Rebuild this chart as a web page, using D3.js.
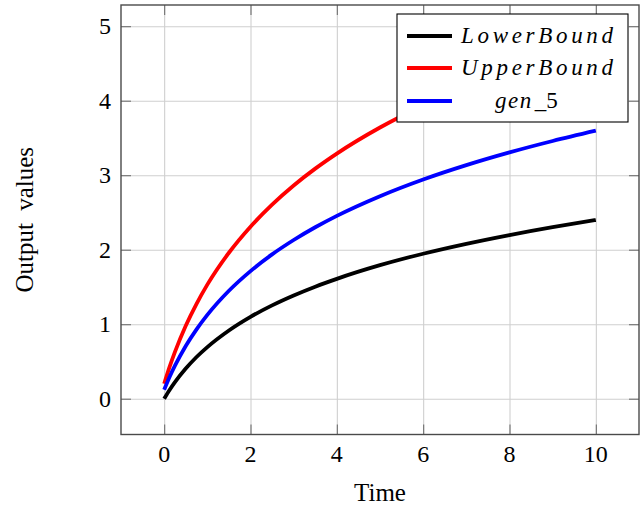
<!DOCTYPE html>
<html>
<head>
<meta charset="utf-8">
<script src="https://cdn.jsdelivr.net/npm/d3@7"></script>
<style>
  html, body { margin: 0; padding: 0; background: #fff; }
  svg { display: block; }
  text { font-family: "Liberation Serif", "Times New Roman", serif; fill: #000; }
</style>
</head>
<body>
<svg id="chart" width="644" height="506"></svg>
<script>
// Sample times and the three output series
const time       = [0, 0.125, 0.25, 0.5, 0.75, 1, 1.5, 2, 2.5, 3, 3.5, 4, 5, 6, 7, 8, 9, 10];
const lowerBound = [0, 0.118, 0.223, 0.405, 0.560, 0.693, 0.916, 1.099, 1.253, 1.386, 1.504, 1.609, 1.792, 1.946, 2.079, 2.197, 2.303, 2.398];
const upperBound = [0.200, 0.426, 0.628, 0.979, 1.274, 1.531, 1.959, 2.309, 2.605, 2.862, 3.088, 3.290, 3.640, 3.936, 4.192, 4.419, 4.621, 4.804];
const gen5       = [0.120, 0.291, 0.443, 0.708, 0.931, 1.125, 1.449, 1.713, 1.937, 2.130, 2.301, 2.454, 2.718, 2.942, 3.135, 3.306, 3.459, 3.597];

const xTicks = [0, 2, 4, 6, 8, 10];
const yTicks = [0, 1, 2, 3, 4, 5];

const seriesNames  = ["LowerBound", "UpperBound", "gen_5"];
const seriesColors = ["#000000", "#ff0000", "#0000ff"];
const seriesValues = [lowerBound, upperBound, gen5];

const svg = d3.select("#chart");
const W = 644, H = 506;
const margin = { left: 121, right: 5, top: 5, bottom: 71.5 };
const iw = W - margin.left - margin.right;
const ih = H - margin.top - margin.bottom;

// Axis limits enlarged by 10% of the data range on each side
const xMin = d3.min(time), xMax = d3.max(time);
const allY = seriesValues.flat();
const yMin = d3.min(allY), yMax = d3.max(allY);
const xPad = (xMax - xMin) * 0.1, yPad = (yMax - yMin) * 0.1;

const x = d3.scaleLinear().domain([xMin - xPad, xMax + xPad]).range([0, iw]);
const y = d3.scaleLinear().domain([yMin - yPad, yMax + yPad]).range([ih, 0]);

const g = svg.append("g").attr("transform", `translate(${margin.left},${margin.top})`);

// Grid
g.append("g").attr("class", "grid-x")
  .call(d3.axisBottom(x).tickValues(xTicks).tickSize(-ih).tickFormat(""))
  .attr("transform", `translate(0,${ih})`)
  .call(s => s.select(".domain").remove())
  .call(s => s.selectAll("line").attr("stroke", "#cfcfcf").attr("stroke-width", 1.1));
g.append("g").attr("class", "grid-y")
  .call(d3.axisLeft(y).tickValues(yTicks).tickSize(-iw).tickFormat(""))
  .call(s => s.select(".domain").remove())
  .call(s => s.selectAll("line").attr("stroke", "#cfcfcf").attr("stroke-width", 1.1));

// Inward tick marks on all four sides
const tl = 10;
const tickStyle = s => s.attr("stroke", "#707070").attr("stroke-width", 1.1);
g.append("g").attr("transform", `translate(0,${ih})`)
  .call(d3.axisBottom(x).tickValues(xTicks).tickSize(-tl).tickFormat(""))
  .call(s => s.select(".domain").remove()).call(s => tickStyle(s.selectAll("line")));
g.append("g")
  .call(d3.axisTop(x).tickValues(xTicks).tickSize(-tl).tickFormat(""))
  .call(s => s.select(".domain").remove()).call(s => tickStyle(s.selectAll("line")));
g.append("g")
  .call(d3.axisLeft(y).tickValues(yTicks).tickSize(-tl).tickFormat(""))
  .call(s => s.select(".domain").remove()).call(s => tickStyle(s.selectAll("line")));
g.append("g").attr("transform", `translate(${iw},0)`)
  .call(d3.axisRight(y).tickValues(yTicks).tickSize(-tl).tickFormat(""))
  .call(s => s.select(".domain").remove()).call(s => tickStyle(s.selectAll("line")));

// Curves
const line = d3.line().curve(d3.curveMonotoneX)
  .x((d, i) => x(time[i])).y(d => y(d));
const curves = g.append("g");
seriesValues.forEach((vals, k) => {
  curves.append("path")
    .datum(vals)
    .attr("d", line)
    .attr("fill", "none")
    .attr("stroke", seriesColors[k])
    .attr("stroke-width", 3.8);
});

// Frame
g.append("rect").attr("x", 0).attr("y", 0).attr("width", iw).attr("height", ih)
  .attr("fill", "none").attr("stroke", "#4a4a4a").attr("stroke-width", 1.4);

// Tick labels
const fs = 24;
g.append("g").selectAll("text").data(xTicks).join("text")
  .attr("x", d => x(d)).attr("y", ih + 27)
  .attr("text-anchor", "middle").attr("font-size", fs)
  .text(d => d);
g.append("g").selectAll("text").data(yTicks).join("text")
  .attr("x", -10).attr("y", d => y(d)).attr("dy", "0.34em")
  .attr("text-anchor", "end").attr("font-size", fs)
  .text(d => d);

// Axis titles
svg.append("text")
  .attr("x", margin.left + iw / 2).attr("y", 501)
  .attr("text-anchor", "middle").attr("font-size", 25)
  .text("Time");
svg.append("text")
  .attr("transform", `translate(33,${margin.top + ih / 2}) rotate(-90)`)
  .attr("text-anchor", "middle").attr("font-size", 25)
  .attr("word-spacing", 6)
  .text("Output values");

// Legend
const lg = svg.append("g").attr("transform", "translate(397,14)");
lg.append("rect").attr("width", 231).attr("height", 108)
  .attr("fill", "#fff").attr("stroke", "#000").attr("stroke-width", 1.1);
const rowY = [22, 54, 87];
seriesNames.forEach((name, k) => {
  lg.append("line")
    .attr("x1", 10).attr("x2", 55)
    .attr("y1", rowY[k]).attr("y2", rowY[k])
    .attr("stroke", seriesColors[k]).attr("stroke-width", 4);
  const t = lg.append("text")
    .attr("y", rowY[k] + 7)
    .attr("font-size", 23);
  if (name === "gen_5") {
    t.attr("x", 98);
    t.append("tspan").attr("font-style", "italic").attr("letter-spacing", 1.5).text("gen");
    t.append("tspan").attr("dx", 2).text("_5");
  } else {
    t.attr("x", 64).attr("font-style", "italic")
      .attr("textLength", 152).attr("lengthAdjust", "spacing")
      .text(name);
  }
});
</script>
</body>
</html>
